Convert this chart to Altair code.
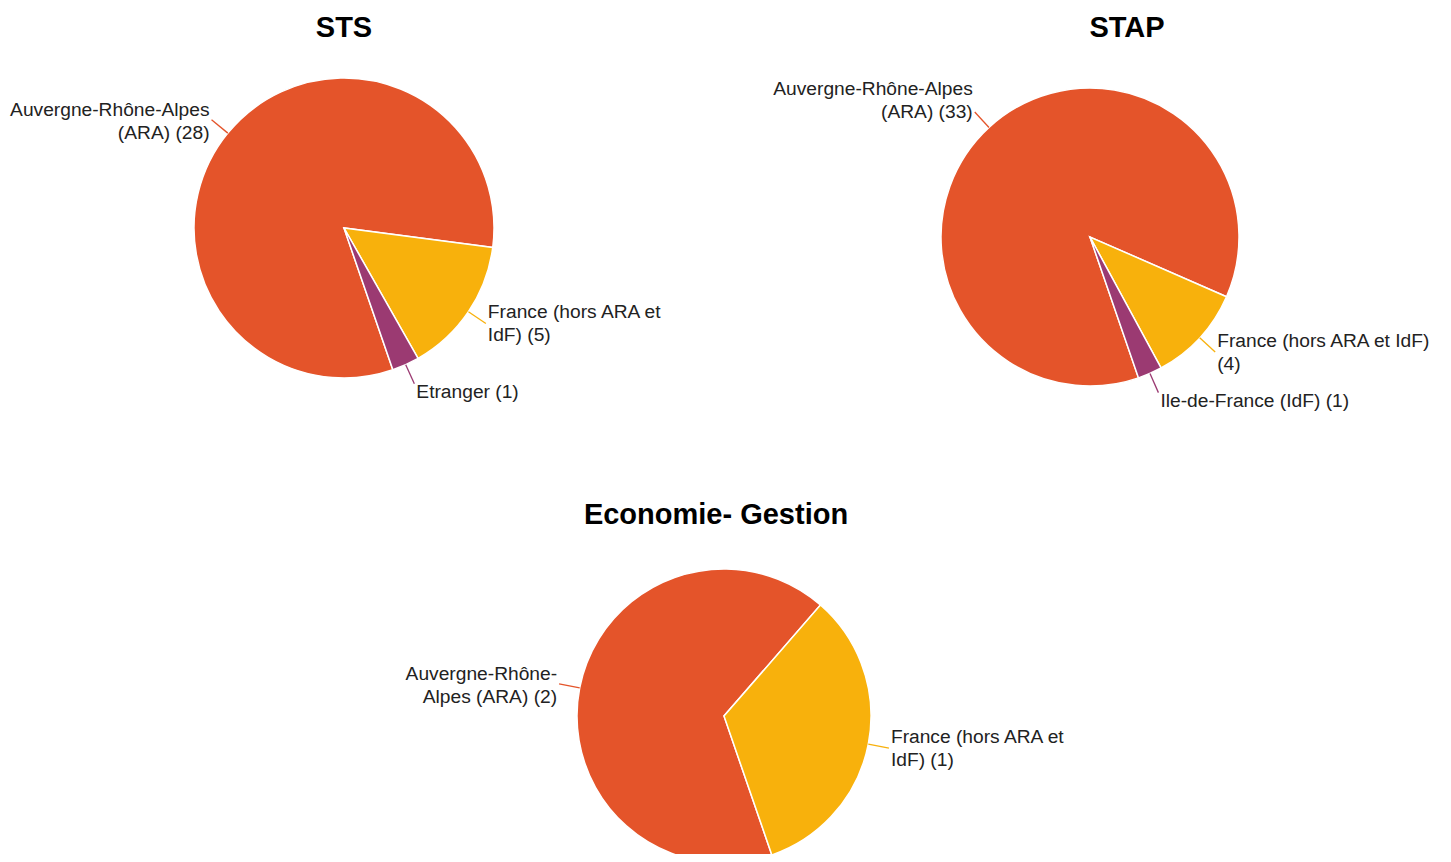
import math
import altair as alt
import pandas as pd

# ---------------- data ----------------
categories = ["Auvergne-Rhône-Alpes (ARA)", "France (hors ARA et IdF)", "Etranger", "Ile-de-France (IdF)"]
palette = ["#E4542A", "#F8B10C", "#9B3A72", "#9B3A72"]

sts_cats = ["Auvergne-Rhône-Alpes (ARA)", "France (hors ARA et IdF)", "Etranger"]
sts_values = [28, 5, 1]
sts_labels = ["Auvergne-Rhône-Alpes\n(ARA) (28)", "France (hors ARA et\nIdF) (5)", "Etranger (1)"]

stap_cats = ["Auvergne-Rhône-Alpes (ARA)", "France (hors ARA et IdF)", "Ile-de-France (IdF)"]
stap_values = [33, 4, 1]
stap_labels = ["Auvergne-Rhône-Alpes\n(ARA) (33)", "France (hors ARA et IdF)\n(4)", "Ile-de-France (IdF) (1)"]

eco_cats = ["Auvergne-Rhône-Alpes (ARA)", "France (hors ARA et IdF)"]
eco_values = [2, 1]
eco_labels = ["Auvergne-Rhône-\nAlpes (ARA) (2)", "France (hors ARA et\nIdF) (1)"]

# ---------------- style ----------------
START = 161 * math.pi / 180   # angle where the first slice begins (clockwise from top)
LEAD = 21                     # leader length
LINE_H = 23
FONT = "Liberation Sans"
TEXT_COLOR = "#222222"


def panel(title, cats, values, labels, W, H, ctop, R, title_dx, title_offset):
    df = pd.DataFrame({"cat": cats, "value": values, "label": labels, "ord": list(range(len(cats)))})
    base = (
        alt.Chart(df)
        .transform_window(cum="sum(value)", sort=[alt.SortField("ord")], frame=[None, 0])
        .transform_joinaggregate(total="sum(value)")
        .transform_calculate(f0="(datum.cum - datum.value) / datum.total")
        .transform_calculate(f1="datum.cum / datum.total")
        .transform_calculate(mid=f"{START} + PI * (datum.f0 + datum.f1)")
        .transform_calculate(sx="sin(datum.mid)")
        .transform_calculate(cy="-cos(datum.mid)")
        .transform_calculate(x0=f"{R} * datum.sx")
        .transform_calculate(y0=f"{R} * datum.cy")
        .transform_calculate(x1=f"{R + LEAD} * datum.sx")
        .transform_calculate(y1=f"{R + LEAD} * datum.cy")
        .transform_calculate(nl="length(split(datum.label, '\\n'))")
        .transform_calculate(
            ty=f"datum.y1 - (datum.nl - 1) * {LINE_H / 2}"
               " + (datum.cy > 0.8 ? 8 : (datum.cy < -0.7 ? -14 : 0))"
        )
    )
    xs = alt.Scale(domain=[-W / 2, W / 2], nice=False, zero=False)
    ys = alt.Scale(domain=[-ctop, H - ctop], reverse=True, nice=False, zero=False)
    color = alt.Color("cat:N", scale=alt.Scale(domain=categories, range=palette), legend=None)

    arc = base.mark_arc(radius=R, stroke="white", strokeWidth=1.5, clip=True).encode(
        x=alt.XDatum(0, type="quantitative", scale=xs, axis=None),
        y=alt.YDatum(0, type="quantitative", scale=ys, axis=None),
        theta=alt.Theta("f0:Q", stack=None,
                        scale=alt.Scale(domain=[0, 1], range=[START, START + 2 * math.pi])),
        theta2="f1:Q",
        color=color,
        order=alt.Order("ord:Q"),
    )
    rules = base.mark_rule(strokeWidth=1.3).encode(
        x=alt.X("x0:Q", scale=xs, axis=None),
        y=alt.Y("y0:Q", scale=ys, axis=None),
        x2="x1:Q",
        y2="y1:Q",
        color=color,
    )
    txt_kw = dict(font=FONT, fontSize=19.2, lineBreak="\n", lineHeight=LINE_H,
                  baseline="middle", color=TEXT_COLOR)
    left = base.transform_filter("datum.sx >= 0").mark_text(align="left", dx=2, **txt_kw).encode(
        x=alt.X("x1:Q", scale=xs, axis=None),
        y=alt.Y("ty:Q", scale=ys, axis=None),
        text="label:N",
    )
    right = base.transform_filter("datum.sx < 0").mark_text(align="right", dx=-2, dy=2, **txt_kw).encode(
        x=alt.X("x1:Q", scale=xs, axis=None),
        y=alt.Y("ty:Q", scale=ys, axis=None),
        text="label:N",
    )
    return alt.layer(arc, rules, left, right).properties(
        width=W,
        height=H,
        title=alt.TitleParams(title, font=FONT, fontSize=29, fontWeight="bold",
                              color="black", offset=title_offset, dx=title_dx),
    )


sts = panel("STS", sts_cats, sts_values, sts_labels, 672, 400, 186, 150, 0, -1)
stap = panel("STAP", stap_cats, stap_values, stap_labels, 690, 400, 195, 149, 37, -1)
eco = panel("Economie- Gestion", eco_cats, eco_values, eco_labels, 1432, 318, 180, 147, -8, 6)

chart = (
    alt.vconcat(alt.hconcat(sts, stap, spacing=65), eco, spacing=59)
    .properties(padding={"top": 6, "left": 0, "right": 0, "bottom": 0}, background="white")
    .configure_view(stroke=None)
)

chart.save("out.html", embed_options={"renderer": "svg", "actions": False})
